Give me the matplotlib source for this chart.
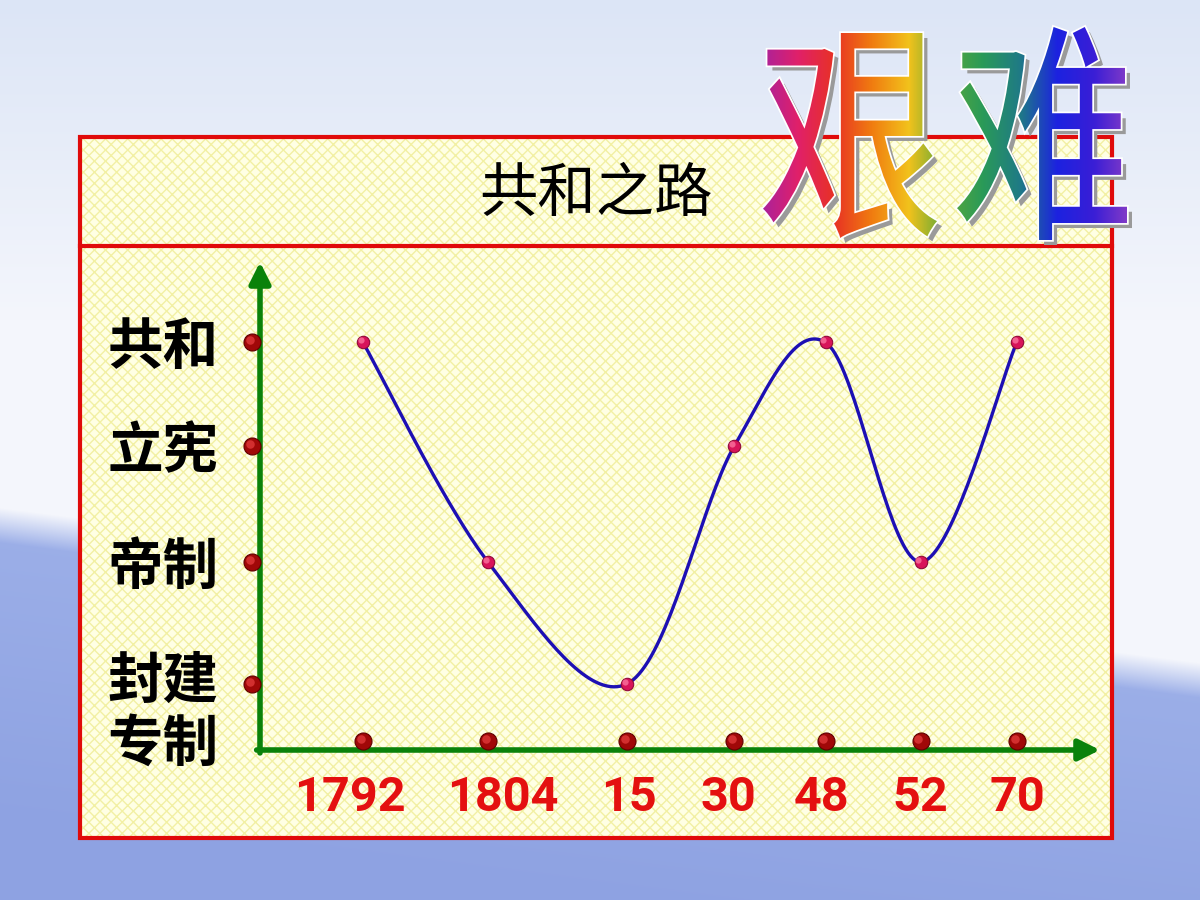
import matplotlib
matplotlib.use('Agg')
import matplotlib.pyplot as plt
import matplotlib.transforms as mtransforms
from matplotlib.patches import Rectangle, PathPatch
from matplotlib.path import Path
from matplotlib.textpath import TextPath
from matplotlib.font_manager import FontProperties
from matplotlib.colors import to_rgb, LinearSegmentedColormap
import numpy as np

plt.rcParams['font.family'] = ['Noto Sans CJK SC', 'DejaVu Sans']

# ── Data ─────────────────────────────────────────────────────────────────────
years   = ['1792', '1804', '15', '30', '48', '52', '70']
regimes = ['封建\n专制', '帝制', '立宪', '共和']          # y categories, bottom → top
path_of_state = [3, 1, 0, 2, 3, 1, 3]                   # index into regimes per year

# layout: slot positions of the categories on each axis (uneven like the slide)
x_slots = [0.0, 1.0, 2.11, 2.97, 3.70, 4.46, 5.23]
y_slots = [0.0, 1.0, 1.95, 2.80]
label_nudge = [-13, 15, 2, -6, -4, 0, 1]                # px shift of year labels

xv = np.array(x_slots)
yv = np.array([y_slots[i] for i in path_of_state])


def catmull_rom(px, py, n=40):
    # smooth line through the points (like the "smoothed line" of office charts)
    P = np.column_stack([px, py])
    P = np.vstack([P[0], P, P[-1]])
    out = []
    t = np.linspace(0, 1, n)[:, None]
    for i in range(1, len(P) - 2):
        p0, p1, p2, p3 = P[i - 1], P[i], P[i + 1], P[i + 2]
        seg = 0.5 * ((2 * p1) + (-p0 + p2) * t + (2 * p0 - 5 * p1 + 4 * p2 - p3) * t**2
                     + (-p0 + 3 * p1 - 3 * p2 + p3) * t**3)
        out.append(seg)
    out = np.vstack(out)
    return out[:, 0], out[:, 1]


fig = plt.figure(figsize=(12, 9), dpi=100)

# ── Background (slide gradient) ──────────────────────────────────────────────
deco = fig.add_axes([0, 0, 1, 1], zorder=0)
deco.set_xlim(0, 1200)
deco.set_ylim(900, 0)
deco.axis('off')

H, W = 900, 1200
yy, xx = np.mgrid[0:H, 0:W]
top = np.array(to_rgb('#dce5f6'))
mid = np.array(to_rgb('#f4f6fc'))
low = np.array(to_rgb('#9cafe8'))
bot = np.array(to_rgb('#8ea2e2'))
f_top = np.clip(yy / 320.0, 0, 1)[..., None]
sky = top * (1 - f_top) + mid * f_top
horizon = 525 + (680 - 525) * xx / W
b = np.clip((yy - horizon) / 35.0 + 0.5, 0, 1)[..., None]
f_bot = np.clip((yy - horizon) / 300.0, 0, 1)[..., None]
ground = low * (1 - f_bot) + bot * f_bot
bg = sky * (1 - b) + ground * b
deco.imshow(bg, extent=[0, 1200, 900, 0], aspect='auto', zorder=0)

# ── Panel ────────────────────────────────────────────────────────────────────
plt.rcParams['hatch.linewidth'] = 1.0
deco.add_patch(Rectangle((80, 137), 1032, 701, facecolor='#ffffe4',
                         edgecolor='#f2f0a4', hatch='xxx', linewidth=0, zorder=1))
deco.add_patch(Rectangle((80, 137), 1032, 701, facecolor='none',
                         edgecolor='#e00a0a', linewidth=3, zorder=2))
deco.plot([80, 1112], [246, 246], color='#e00a0a', linewidth=3, zorder=2)
deco.text(596, 194, '共和之路', fontsize=42, ha='center', va='center',
          color='black', fontweight='medium', zorder=3)

# ── Rainbow word art ─────────────────────────────────────────────────────────
fp = FontProperties(family='Noto Sans CJK SC', weight='light')
boxes = {'艰': (763, 937, 33, 238), '难': (957, 1127, 27, 240)}
paths = []
for ch, (x0, x1, y0, y1) in boxes.items():
    tp = TextPath((0, 0), ch, size=1, prop=fp)
    ext = tp.get_extents()
    sx = (x1 - x0) / ext.width
    sy = (y1 - y0) / ext.height
    tr = (mtransforms.Affine2D().translate(-ext.x0, -ext.y1)
          .scale(sx, -sy).translate(x0, y0))
    paths.append(tr.transform_path(tp))
word = Path.make_compound_path(*paths)

shadow = PathPatch(word, facecolor='#9a9a9a', edgecolor='none',
                   transform=mtransforms.Affine2D().translate(5, 5) + deco.transData,
                   zorder=4)
deco.add_patch(shadow)
halo = PathPatch(word, facecolor='none', edgecolor='white', linewidth=2.5, zorder=5)
deco.add_patch(halo)

rainbow = LinearSegmentedColormap.from_list('rb', [
    '#a8229e', '#e0206a', '#e83224', '#f07c10', '#f2c21c',
    '#5aa83a', '#2a9a58', '#1f7a86', '#1c22e0', '#3a1ed6', '#8a3ec6'])
grad = np.linspace(0, 1, 256)[None, :].repeat(4, axis=0)
im = deco.imshow(grad, cmap=rainbow, extent=[760, 1132, 245, 22],
                 aspect='auto', zorder=6)
clip = PathPatch(word, transform=deco.transData, facecolor='none')
im.set_clip_path(clip)

# ── Chart ────────────────────────────────────────────────────────────────────
ax = fig.add_axes([260 / 1200, 1 - 750 / 900, 840 / 1200, 488 / 900], zorder=2)
ax.set_facecolor('none')
ax.set_xlim(-0.824, 5.896)
ax.set_ylim(-0.541, 3.459)
for s in ax.spines.values():
    s.set_visible(False)

# green arrow axes
arrow_kw = dict(arrowstyle='-|>', color='#0a820a', lw=4, mutation_scale=32,
                shrinkA=0, shrinkB=0)
ax.annotate('', xy=(1.0, 0), xytext=(-0.004, 0), xycoords='axes fraction',
            textcoords='axes fraction', arrowprops=arrow_kw)
ax.annotate('', xy=(0, 1.0), xytext=(0, -0.006), xycoords='axes fraction',
            textcoords='axes fraction', arrowprops=arrow_kw)

ax.set_xticks(x_slots)
ax.set_xticklabels(years, fontsize=35, fontweight='bold', color='#e41010',
                   family=['Roboto', 'DejaVu Sans'])
ax.set_yticks(y_slots)
ax.set_yticklabels(regimes, fontsize=40, fontweight='bold', color='black',
                   linespacing=1.15)
ax.tick_params(axis='x', length=0, pad=18)
ax.tick_params(axis='y', length=0, pad=30)
for lbl, dx in zip(ax.get_xticklabels(), label_nudge):
    lbl.set_transform(lbl.get_transform() +
                      mtransforms.ScaledTranslation(dx / 100, 0, fig.dpi_scale_trans))
for lbl in ax.get_yticklabels():
    if '\n' in lbl.get_text():
        lbl.set_transform(lbl.get_transform() +
                          mtransforms.ScaledTranslation(0, -20 / 100, fig.dpi_scale_trans))


def sphere(x, y, size, base, edge, light, trans):
    ax.scatter(x, y, s=size, color=base, edgecolors=edge, linewidths=0.8,
               zorder=6, clip_on=False, transform=trans)
    hl = mtransforms.offset_copy(trans, fig=fig, x=-1.5, y=1.5, units='points')
    ax.scatter(x, y, s=size * 0.25, color=light, alpha=0.7, linewidths=0,
               zorder=7, clip_on=False, transform=hl)


# tick marks as red balls on both axes
ytick_tr = mtransforms.blended_transform_factory(ax.transAxes, ax.transData)
sphere(np.full(len(y_slots), -8 / 840), y_slots, 150, '#a00808', '#600000', '#e84040', ytick_tr)
xtick_tr = mtransforms.blended_transform_factory(ax.transData, ax.transAxes)
sphere(x_slots, np.full(len(x_slots), 9 / 488), 150, '#a00808', '#600000', '#e84040', xtick_tr)

cx, cy = catmull_rom(xv, yv)
ax.plot(cx, cy, color='#1d0fb4', linewidth=2.4, zorder=5, solid_capstyle='round')
sphere(xv, yv, 80, '#d8145a', '#900a3a', '#ff80a8', ax.transData)

fig.savefig('out.png', dpi=100)
